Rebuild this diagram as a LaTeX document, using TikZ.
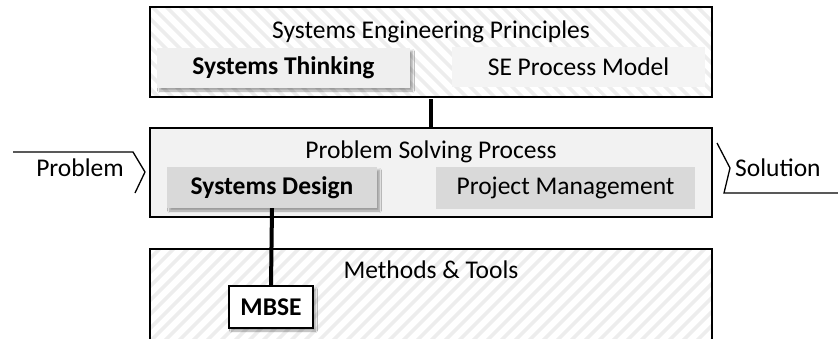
\documentclass[tikz,border=0pt]{standalone}
\usepackage{fontspec}
\setmainfont{Carlito}
\usetikzlibrary{patterns.meta,shadows.blur}
\definecolor{hatch}{HTML}{EDEDED}
\definecolor{midfill}{HTML}{F2F2F2}
\definecolor{darkfill}{HTML}{D9D9D9}
\definecolor{stfill}{HTML}{EFEFEF}
\definecolor{sefill}{HTML}{F4F4F4}
\tikzset{
  lbl/.style={font=\fontsize{25.5}{30}\selectfont, inner sep=0pt},
  layer/.style={draw=black, line width=1.3pt, inner sep=0pt},
  inner/.style={inner sep=0pt, font=\fontsize{25.5}{30}\selectfont},
  bold/.style={font=\fontsize{25.5}{30}\selectfont\bfseries},
  shad/.style={blur shadow={shadow xshift=2.5pt, shadow yshift=-3pt, shadow blur steps=6, shadow opacity=35}},
  conn/.style={line width=4pt, draw=black},
  chev/.style={line width=1.3pt, draw=black, line join=miter},
}
\begin{document}
\begin{tikzpicture}[x=1pt,y=-1pt]
\clip (0,0) rectangle (838,338);
\useasboundingbox (0,0) rectangle (838,338);
% top layer
\node[layer, minimum width=562pt, minimum height=90pt,
  preaction={fill=white},
  pattern={Lines[angle=-45,distance=10.5pt,line width=4pt]}, pattern color=hatch]
  (top) at (431,52) {};
\node[lbl] (toptitle) at (431,32) {Systems Engineering Principles};
\node[inner, bold, fill=stfill, shad, minimum width=253pt, minimum height=40pt]
  (st) at (283.5,68) {Systems Thinking};
\node[inner, fill=sefill, minimum width=253pt, minimum height=40pt]
  (sepm) at (578.5,67) {SE Process Model};
% middle layer
\node[layer, fill=midfill, minimum width=562pt, minimum height=89pt] (mid) at (431,172.5) {};
\node[lbl] (midtitle) at (431,152) {Problem Solving Process};
\node[inner, bold, fill=darkfill, shad, minimum width=210pt, minimum height=41pt]
  (sd) at (272,187.5) {Systems Design};
\node[inner, fill=darkfill, minimum width=259pt, minimum height=42pt]
  (pm) at (565.5,188) {Project Management};
% bottom layer
\node[layer, minimum width=562pt, minimum height=110pt,
  preaction={fill=white},
  pattern={Lines[angle=45,distance=10.5pt,line width=4pt]}, pattern color=hatch]
  (bot) at (431,304) {};
\node[lbl] (bottitle) at (431,270) {Methods \& Tools};
% connectors
\draw[conn] (top.south) -- (mid.north);
\node[inner, bold, draw=black, line width=1.3pt, fill=white, shad, minimum width=84pt, minimum height=42pt]
  (mbse) at (271,307) {MBSE};
\draw[conn] (sd.south) -- (mbse.north);
% problem / solution
\coordinate (p0) at (13,152);
\coordinate (p1) at (133,152);
\coordinate (p2) at (145,172);
\coordinate (p3) at (135,193);
\draw[chev] (p0) -- (p1) -- (p2) -- (p3);
\node[lbl] (problem) at (80,168) {Problem};
\coordinate (s0) at (717,143);
\coordinate (s1) at (730,168);
\coordinate (s2) at (724,193);
\coordinate (s3) at (840,193);
\draw[chev] (s0) -- (s1) -- (s2) -- (s3);
\node[lbl, anchor=west] (solution) at (735,168) {Solution};
\end{tikzpicture}
\end{document}
